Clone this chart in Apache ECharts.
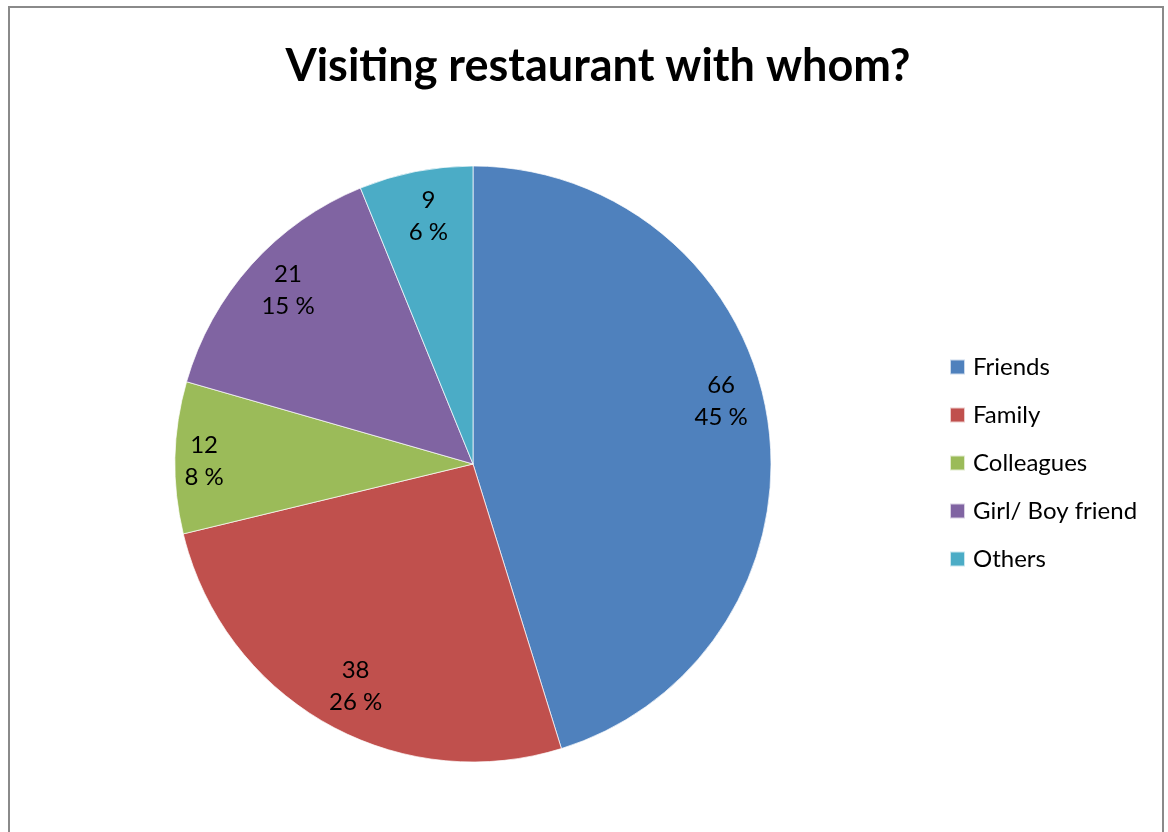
<!DOCTYPE html>
<html>
<head>
<meta charset="utf-8">
<script src="https://cdn.jsdelivr.net/npm/echarts@6/dist/echarts.min.js"></script>
<style>
  html, body { margin: 0; padding: 0; background: #fff; }
  #chart { width: 1168px; height: 832px; }
</style>
</head>
<body>
<div id="chart"></div>
<script>
// Who people visit restaurants with (number of respondents)
const categories = ['Friends', 'Family', 'Colleagues', 'Girl/ Boy friend', 'Others'];
const counts = [66, 38, 12, 21, 9];
const sliceColors = ['#4F81BD', '#C0504D', '#9BBB59', '#8064A2', '#4BACC6'];
const titleText = 'Visiting restaurant with whom?';

// small per-slice nudges of the value labels, in pixels
const labelNudge = [[-7, -24], [10, -2], [-11, 3], [7, -1], [5, 5]];

const FONT = 'Lato, "Open Sans", sans-serif';

const pieData = categories.map((name, i) => ({
  name: name,
  value: counts[i],
  itemStyle: { color: sliceColors[i] }
}));

const chart = echarts.init(document.getElementById('chart'), null, { renderer: 'canvas' });

chart.setOption({
  backgroundColor: '#ffffff',
  animation: false,
  title: {
    text: titleText,
    left: 593,
    top: 39,
    textAlign: 'center',
    textStyle: { fontFamily: FONT, fontWeight: 'bold', fontSize: 45, color: '#000' }
  },
  legend: {
    orient: 'vertical',
    left: 949,
    top: 355,
    padding: 0,
    itemWidth: 15,
    itemHeight: 15,
    itemGap: 24,
    icon: 'rect',
    data: categories,
    textStyle: { fontFamily: FONT, fontSize: 24, color: '#000', padding: [0, 0, 0, 3] }
  },
  graphic: [{
    type: 'rect',
    silent: true,
    shape: { x: 9, y: 7, width: 1154, height: 860 },
    style: { fill: 'none', stroke: '#8a8a8a', lineWidth: 2 }
  }],
  series: [
    {
      // the visible pie
      name: 'Visiting restaurant',
      type: 'pie',
      center: [473, 464],
      radius: 298,
      startAngle: 90,
      clockwise: true,
      data: pieData,
      label: { show: false },
      labelLine: { show: false },
      itemStyle: { borderColor: 'rgba(255,255,255,0.7)', borderWidth: 1 },
      emphasis: { disabled: true }
    },
    {
      // transparent ring that places the value labels near the rim
      name: 'labels',
      type: 'pie',
      center: [473, 464],
      radius: [212, 298],
      startAngle: 90,
      clockwise: true,
      silent: true,
      data: categories.map((name, i) => ({ name: name, value: counts[i] })),
      itemStyle: { color: 'rgba(0,0,0,0)', borderWidth: 0 },
      label: {
        show: true,
        position: 'inside',
        formatter: '{c}\n{d} %',
        fontFamily: FONT,
        fontSize: 24,
        lineHeight: 32,
        color: '#000'
      },
      labelLayout: function (params) {
        const n = labelNudge[params.dataIndex] || [0, 0];
        return { dx: n[0], dy: n[1] };
      },
      percentPrecision: 0,
      labelLine: { show: false },
      emphasis: { disabled: true }
    }
  ]
});
</script>
</body>
</html>
